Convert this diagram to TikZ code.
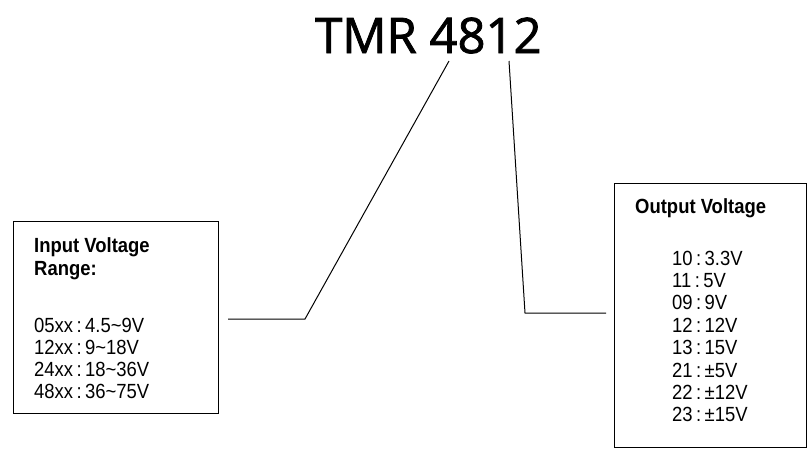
\documentclass[tikz,border=0pt]{standalone}
\usepackage{fontspec}
\setmainfont{Liberation Sans}[FakeStretch=0.9]
\newfontfamily\titlefont{Open Sans}[FakeBold=1.6]
\usetikzlibrary{positioning}

\tikzstyle{panel} = [draw, line width=1pt, inner sep=0pt]
\tikzstyle{head} = [font=\fontsize{20.5}{22}\selectfont\bfseries, inner sep=0pt, align=left]
\tikzstyle{entry} = [font=\fontsize{20.5}{22}\selectfont, inner sep=0pt]
\tikzstyle{wire} = [line width=1pt]

\begin{document}
\begin{tikzpicture}[x=1pt, y=-1pt]
\useasboundingbox (0,0) rectangle (811,451);
% part number
\node[anchor=base west, inner sep=0pt, font=\titlefont\fontsize{49}{55}\selectfont] (title) at (315,53) {TMR 4812};
% input box
\node[panel, minimum width=205pt, minimum height=192pt] (inbox) at (115.5,317) {};
\node[head, anchor=base west] (inhead) at (34,252) {Input Voltage};
\node[head, anchor=base west] (inhead2) at (34,275) {Range:};
\foreach \code/\volt [count=\i] in {05xx/4.5\textasciitilde9V, 12xx/9\textasciitilde18V, 24xx/18\textasciitilde36V, 48xx/36\textasciitilde75V}
    \node[entry, anchor=base west] (in\i) at (34,{332+22*(\i-1)}) {\code\,:\,\volt};
% output box
\node[panel, minimum width=192pt, minimum height=264pt] (outbox) at (710,315) {};
\node[head, anchor=base west] (outhead) at (635,213) {Output Voltage};
\foreach \code/\volt [count=\i] in {10/3.3V, 11/5V, 09/9V, 12/12V, 13/15V, 21/±5V, 22/±12V, 23/±15V}
    \node[entry, anchor=base west] (out\i) at (672,{265+22.4*(\i-1)}) {\code\,:\,\volt};
% leaders
\coordinate (intop) at (449,61);
\coordinate (inbend) at (305,319);
\coordinate (inend) at (228,319);
\coordinate (outtop) at (509,61);
\coordinate (outbend) at (525,313);
\coordinate (outend) at (606,313);
\draw[wire] (intop) -- (inbend) -- (inend);
\draw[wire] (outtop) -- (outbend) -- (outend);
\end{tikzpicture}
\end{document}
